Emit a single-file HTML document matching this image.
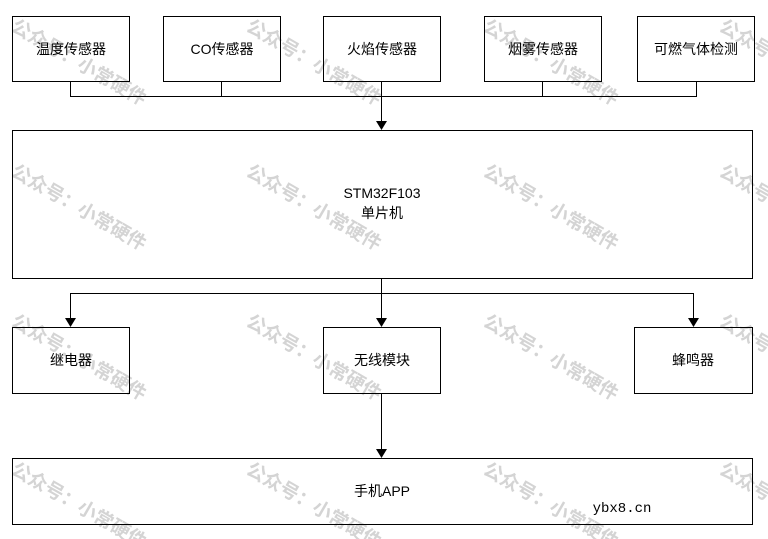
<!DOCTYPE html>
<html><head><meta charset="utf-8"><style>
body{margin:0;background:#fff}
svg{display:block}
.t{font-family:"Liberation Sans","Noto Sans CJK SC",sans-serif;font-size:14px;fill:#000;text-anchor:middle}
.w{font-family:"Liberation Sans","Noto Sans CJK SC",sans-serif;font-size:19px;font-weight:bold;fill:#d4d4d4}
</style></head><body>
<svg width="768" height="539" viewBox="0 0 768 539" xmlns="http://www.w3.org/2000/svg">
<g>
<text class="w" transform="translate(10,30) rotate(30)">公众号：小常硬件</text>
<text class="w" transform="translate(245,30) rotate(30)">公众号：小常硬件</text>
<text class="w" transform="translate(482,30) rotate(30)">公众号：小常硬件</text>
<text class="w" transform="translate(718,30) rotate(30)">公众号：小常硬件</text>
<text class="w" transform="translate(10,175) rotate(30)">公众号：小常硬件</text>
<text class="w" transform="translate(245,175) rotate(30)">公众号：小常硬件</text>
<text class="w" transform="translate(482,175) rotate(30)">公众号：小常硬件</text>
<text class="w" transform="translate(718,175) rotate(30)">公众号：小常硬件</text>
<text class="w" transform="translate(10,325) rotate(30)">公众号：小常硬件</text>
<text class="w" transform="translate(245,325) rotate(30)">公众号：小常硬件</text>
<text class="w" transform="translate(482,325) rotate(30)">公众号：小常硬件</text>
<text class="w" transform="translate(718,325) rotate(30)">公众号：小常硬件</text>
<text class="w" transform="translate(10,473) rotate(30)">公众号：小常硬件</text>
<text class="w" transform="translate(245,473) rotate(30)">公众号：小常硬件</text>
<text class="w" transform="translate(482,473) rotate(30)">公众号：小常硬件</text>
<text class="w" transform="translate(718,473) rotate(30)">公众号：小常硬件</text>
</g>
<g fill="none" stroke="#000" stroke-width="1">
<rect x="12.5" y="16.5" width="117" height="65"/>
<rect x="163.5" y="16.5" width="117" height="65"/>
<rect x="323.5" y="16.5" width="117" height="65"/>
<rect x="484.5" y="16.5" width="117" height="65"/>
<rect x="637.5" y="16.5" width="117" height="65"/>
<rect x="12.5" y="130.5" width="740" height="148"/>
<rect x="12.5" y="327.5" width="117" height="66"/>
<rect x="323.5" y="327.5" width="117" height="66"/>
<rect x="634.5" y="327.5" width="118" height="66"/>
<rect x="12.5" y="458.5" width="740" height="66"/>
<path d="M70.5 82V96.5H696.5V82M221.5 82V96.5M542.5 82V96.5M381.5 82V122"/>
<path d="M381.5 279V319M70.5 319V293.5H693.5V319M381.5 394V450"/>
</g>
<g fill="#000">
<path d="M376 121h11l-5.5 9z"/>
<path d="M65 318h11l-5.5 9z"/>
<path d="M376 318h11l-5.5 9z"/>
<path d="M688 318h11l-5.5 9z"/>
<path d="M376 449h11l-5.5 9z"/>
</g>
<text class="t" x="71" y="54">温度传感器</text>
<text class="t" x="222" y="54">CO传感器</text>
<text class="t" x="382" y="54">火焰传感器</text>
<text class="t" x="543" y="54">烟雾传感器</text>
<text class="t" x="696" y="54">可燃气体检测</text>
<text class="t" x="382" y="198">STM32F103</text>
<text class="t" x="382" y="218">单片机</text>
<text class="t" x="71" y="365">继电器</text>
<text class="t" x="382" y="365">无线模块</text>
<text class="t" x="693" y="365">蜂鸣器</text>
<text class="t" x="382" y="496">手机APP</text>
<text x="622" y="512" style="font-family:'Liberation Mono',monospace;font-size:14px;text-anchor:middle">ybx8.cn</text>
</svg>
</body></html>
